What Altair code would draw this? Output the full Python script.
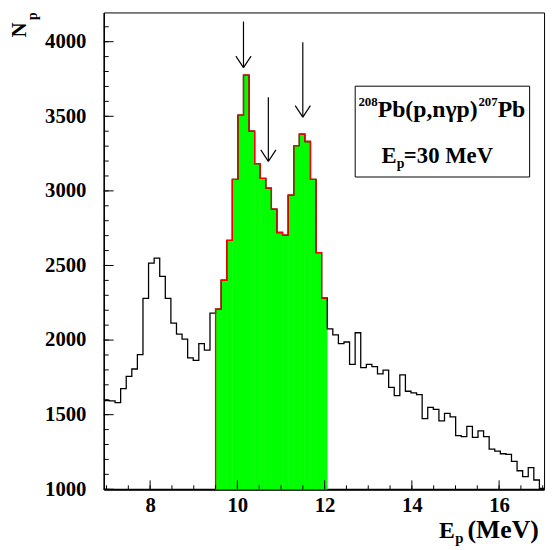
import altair as alt
import pandas as pd

# ---------------- data ----------------
bin_start = 6.94
bin_width = 0.128
counts = [
    1595, 1592, 1580, 1674, 1756, 1806, 1903, 2280, 2516, 2549,
    2427, 2280, 2113, 2040, 2007, 1881, 1864, 1976, 1932, 2181,
    # gated (green) region
    2207, 2401, 2668, 3077, 3507, 3775, 3401, 3183, 3084, 3018,
    2877, 2721, 2703, 2972, 3304, 3381, 3331, 3077, 2586, 2282,
    # after
    2075, 2035, 1976, 1987, 1837, 2049, 1815, 1837, 1822, 1773,
    1798, 1683, 1628, 1767, 1657, 1646, 1634, 1474, 1549, 1535,
    1458, 1509, 1485, 1359, 1353, 1421, 1348, 1392, 1353, 1269,
    1256, 1238, 1234, 1187, 1124, 1084, 1145, 1062, 1005,
]
green_first, green_last = 20, 39
y_floor = 1000

arrow_x = [10.14, 10.71, 11.50]
arrow_top = [4135, 3628, 3996]
arrow_tip = [3826, 3198, 3494]

x_labels = [8, 10, 12, 14, 16]
y_labels = [1000, 1500, 2000, 2500, 3000, 3500, 4000]
x_major_ticks = [8, 10, 12, 14, 16]
x_minor_ticks = [7, 7.5, 8, 8.5, 9, 9.5, 10, 10.5, 11, 11.5, 12, 12.5,
                 13, 13.5, 14, 14.5, 15, 15.5, 16, 16.5, 17]
y_major_ticks = [1000, 1500, 2000, 2500, 3000, 3500, 4000]
y_minor_ticks = [1000, 1100, 1200, 1300, 1400, 1500, 1600, 1700, 1800, 1900,
                 2000, 2100, 2200, 2300, 2400, 2500, 2600, 2700, 2800, 2900,
                 3000, 3100, 3200, 3300, 3400, 3500, 3600, 3700, 3800, 3900,
                 4000, 4100]

# ---------------- build tables ----------------
edges = [bin_start + bin_width * i for i in range(len(counts) + 1)]
black_df = pd.DataFrame({"e": edges, "v": counts + [counts[-1]],
                         "o": list(range(len(edges)))})
green_df = pd.DataFrame({
    "e0": edges[green_first:green_last + 1],
    "e1": edges[green_first + 1:green_last + 2],
    "v": counts[green_first:green_last + 1],
    "b": [y_floor] * (green_last - green_first + 1),
})
g_e = edges[green_first:green_last + 2]
g_v = counts[green_first:green_last + 1] + [counts[green_last]]
red_df = pd.DataFrame({"e": [g_e[0]] + g_e, "v": [y_floor] + g_v,
                       "o": list(range(len(g_e) + 1))})
arrow_df = pd.DataFrame({"x": arrow_x, "top": arrow_top, "tip": arrow_tip})

W, H = 446, 483
FONT = "Liberation Serif"
xs = alt.Scale(domain=[6.937, 17.03], nice=False, zero=False)
ys = alt.Scale(domain=[1000, 4196], nice=False, zero=False)

x_axis = alt.Axis(values=x_labels, format="d", title=None, ticks=False,
                  grid=False, labelFont=FONT, labelFontWeight="bold",
                  labelFontSize=21, labelColor="black", labelPadding=6,
                  domainColor="black", domainWidth=2)
y_axis = alt.Axis(values=y_labels, format="d", title=None, ticks=False,
                  grid=False, labelFont=FONT, labelFontWeight="bold",
                  labelFontSize=21, labelColor="black", labelPadding=18,
                  domainColor="black", domainWidth=1.5)


def X(field):
    return alt.X(field, scale=xs, axis=x_axis)


def Y(field):
    return alt.Y(field, scale=ys, axis=y_axis)


green = alt.Chart(green_df).mark_bar(
    color="#00ff00", opacity=1, stroke="#00ff00", strokeWidth=0.6
).encode(x=X("e0:Q"), x2="e1:Q", y=Y("v:Q"), y2="b:Q")

black = alt.Chart(black_df).mark_line(
    interpolate="step-after", color="black", strokeWidth=1.3, clip=True
).encode(x=X("e:Q"), y=Y("v:Q"), order="o:Q")

red = alt.Chart(red_df).mark_line(
    interpolate="step-after", color="#ff0000", strokeWidth=1.3, clip=True
).encode(x=X("e:Q"), y=Y("v:Q"), order="o:Q")

shafts = alt.Chart(arrow_df).mark_rule(color="black", strokeWidth=1.2).encode(
    x=X("x:Q"), y=Y("top:Q"), y2="tip:Q",
)
head_l = alt.Chart(arrow_df).transform_calculate(
    hx="datum.x - 0.174", hy="datum.tip + 77"
).mark_rule(color="black", strokeWidth=1.2).encode(
    x=X("hx:Q"), x2="x:Q", y=Y("hy:Q"), y2="tip:Q",
)
head_r = alt.Chart(arrow_df).transform_calculate(
    hx="datum.x + 0.174", hy="datum.tip + 77"
).mark_rule(color="black", strokeWidth=1.2).encode(
    x=X("hx:Q"), x2="x:Q", y=Y("hy:Q"), y2="tip:Q",
)


def tick_layer(vals, axis_dir, length):
    df = pd.DataFrame({"t": vals})
    c = alt.Chart(df).mark_rule(color="black", strokeWidth=1)
    if axis_dir == "x":
        return c.encode(x=X("t:Q"), y=alt.value(H), y2=alt.value(H - length))
    return c.encode(y=Y("t:Q"), x=alt.value(0), x2=alt.value(length))


ticks = [
    tick_layer(x_minor_ticks, "x", 4),
    tick_layer(x_major_ticks, "x", 9),
    tick_layer(y_minor_ticks, "y", 5),
    tick_layer(y_major_ticks, "y", 10),
]

box = alt.Chart(alt.Data(values=[{}])).mark_rect(
    fill="white", stroke="black", strokeWidth=1
).encode(x=alt.value(254.7), x2=alt.value(431.4),
         y=alt.value(74.7), y2=alt.value(166.7))


def txt(text, x, y, size, angle=0, baseline="alphabetic", align="left"):
    return alt.Chart(alt.Data(values=[{}])).mark_text(
        text=text, font=FONT, fontWeight="bold", fontSize=size,
        color="black", angle=angle, baseline=baseline, align=align,
    ).encode(x=alt.value(x), y=alt.value(y))


texts = [
    # box text
    txt("208", 258.0, 94.7, 13),
    txt("Pb(p,n\u03b3p)", 277.5, 105.7, 24),
    txt("207", 379.5, 94.7, 13),
    txt("Pb", 399.0, 105.7, 24),
    txt("E", 281.4, 152.4, 23),
    txt("p", 296.8, 157.5, 14),
    txt("=30 MeV", 304.0, 152.4, 23),
    # x title
    txt("E", 339.7, 532.4, 24),
    txt("p", 356.0, 537.5, 15),
    txt("(MeV)", 368.5, 532.4, 26),
    # y title (rotated)
    txt("N", -84.3, 17.7, 21, angle=270, baseline="middle", align="center"),
    txt("p", -71.3, 3.7, 14, angle=270, baseline="middle", align="center"),
]

chart = alt.layer(
    green, black, red, *ticks, shafts, head_l, head_r, box, *texts
).properties(
    width=W, height=H, background="white",
    padding={"left": 97, "top": 1, "right": 3, "bottom": 56},
    autosize=alt.AutoSizeParams(type="none"),
).configure_view(
    stroke="black", strokeWidth=1
)

chart.save("out.html", embed_options={"renderer": "svg", "actions": False})
